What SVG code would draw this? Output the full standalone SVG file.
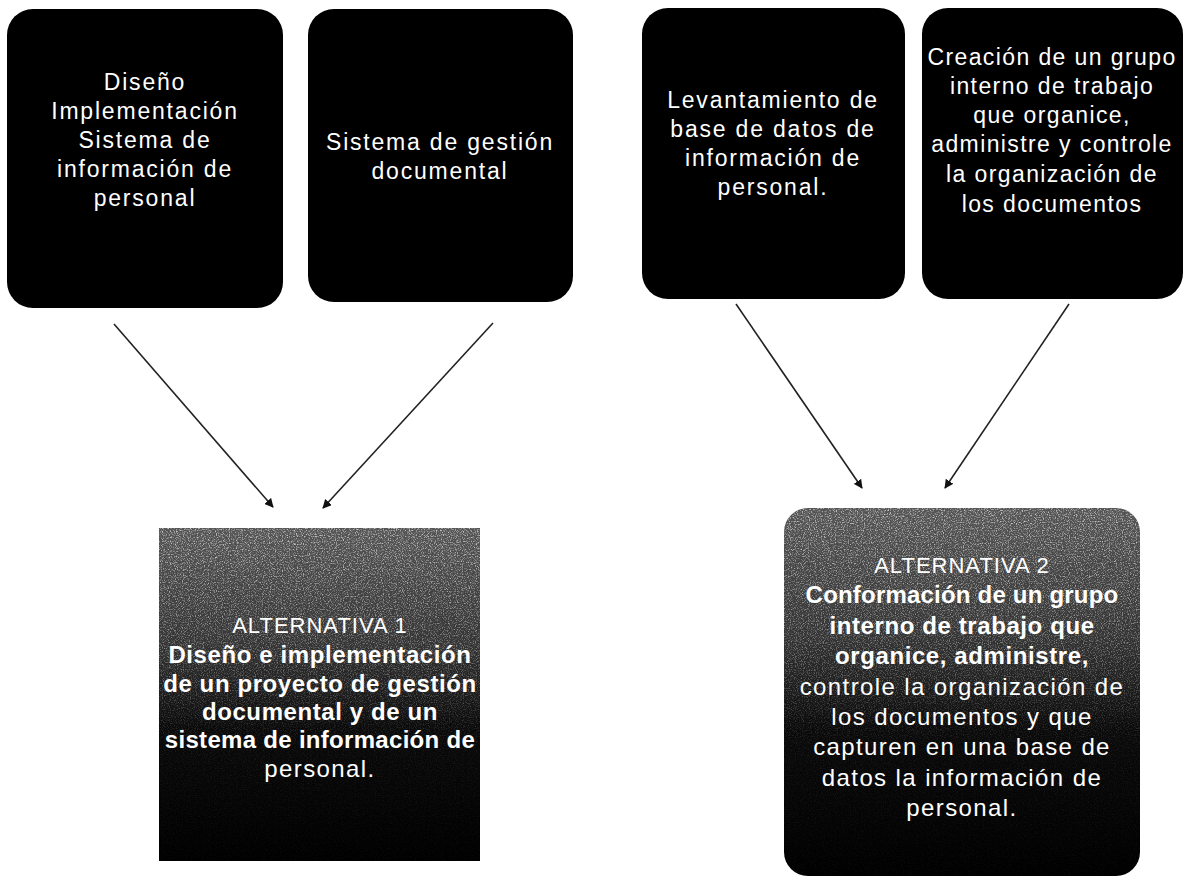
<svg xmlns="http://www.w3.org/2000/svg" width="1190" height="883" viewBox="0 0 1190 883">
<defs>
<style>
.box{fill:#000}
.t{font-family:"Liberation Sans",Arial,sans-serif;font-size:23px;fill:#fff;text-anchor:middle;letter-spacing:1.8px}
.t4{letter-spacing:1.4px}
.ah{font-family:"Liberation Sans",Arial,sans-serif;font-size:22px;fill:#fff;text-anchor:middle;letter-spacing:1px}
.ta{font-family:"Liberation Sans",Arial,sans-serif;font-size:24px;fill:#fff;text-anchor:middle;font-weight:bold;letter-spacing:0.6px}
.tr{font-family:"Liberation Sans",Arial,sans-serif;font-size:24px;fill:#fff;text-anchor:middle;letter-spacing:1.4px}
.arr{stroke:#222;stroke-width:1.6;fill:none;marker-end:url(#ah)}
.grain{filter:url(#grain)}
</style>
<marker id="ah" viewBox="0 0 10 10" refX="9" refY="5" markerWidth="9" markerHeight="9" markerUnits="userSpaceOnUse" orient="auto">
<path d="M0,0 L10,5 L0,10 z" fill="#111"/>
</marker>
<linearGradient id="g1" x1="0" y1="0" x2="0" y2="1">
<stop offset="0" stop-color="#555"/>
<stop offset="0.35" stop-color="#333"/>
<stop offset="0.6" stop-color="#0a0a0a"/>
<stop offset="1" stop-color="#000"/>
</linearGradient>
<linearGradient id="fade" x1="0" y1="0" x2="0" y2="1">
<stop offset="0" stop-color="#fff" stop-opacity="0.8"/>
<stop offset="0.4" stop-color="#fff" stop-opacity="0.45"/>
<stop offset="0.65" stop-color="#fff" stop-opacity="0.08"/>
<stop offset="1" stop-color="#fff" stop-opacity="0.03"/>
</linearGradient>
<filter id="grain" x="0" y="0" width="1" height="1">
<feTurbulence type="fractalNoise" baseFrequency="0.85" numOctaves="2" seed="5" result="n"/>
<feColorMatrix in="n" type="matrix" values="0 0 0 0 0.78  0 0 0 0 0.78  0 0 0 0 0.78  0 0 0 3 -1.4" result="w"/>
<feComposite in="w" in2="SourceGraphic" operator="in"/>
</filter>
</defs>

<g id="connectors">
<line class="arr" x1="114" y1="324" x2="273" y2="507"/>
<line class="arr" x1="493" y1="323" x2="323" y2="508"/>
<line class="arr" x1="736" y1="304" x2="862" y2="488"/>
<line class="arr" x1="1069" y1="304" x2="945" y2="488"/>
</g>

<g id="n1">
<rect class="box" x="7" y="9" width="276" height="299" rx="26"/>
<text class="t" x="145" y="90">Diseño</text>
<text class="t" x="145" y="119">Implementación</text>
<text class="t" x="145" y="148">Sistema de</text>
<text class="t" x="145" y="177">información de</text>
<text class="t" x="145" y="206">personal</text>
</g>

<g id="n2">
<rect class="box" x="308" y="9" width="265" height="293" rx="26"/>
<text class="t" x="440" y="150">Sistema de gestión</text>
<text class="t" x="440" y="179">documental</text>
</g>

<g id="n3">
<rect class="box" x="642" y="8" width="263" height="291" rx="26"/>
<text class="t" x="773" y="108">Levantamiento de</text>
<text class="t" x="773" y="137">base de datos de</text>
<text class="t" x="773" y="166">información de</text>
<text class="t" x="773" y="195">personal.</text>
</g>

<g id="n4">
<rect class="box" x="922" y="8" width="261" height="291" rx="26"/>
<text class="t t4" x="1052" y="65">Creación de un grupo</text>
<text class="t t4" x="1052" y="94">interno  de trabajo</text>
<text class="t t4" x="1052" y="123">que organice,</text>
<text class="t t4" x="1052" y="152">administre y controle</text>
<text class="t t4" x="1052" y="182">la organización  de</text>
<text class="t t4" x="1052" y="212">los documentos</text>
</g>

<g id="alt1">
<rect x="159" y="528" width="321" height="333" fill="url(#g1)"/>
<rect class="grain" x="159" y="528" width="321" height="333" fill="url(#fade)"/>
<text class="ah" x="320" y="633">ALTERNATIVA 1</text>
<text class="ta" x="320" y="663">Diseño e implementación</text>
<text class="ta" x="320" y="692">de un proyecto de gestión</text>
<text class="ta" x="320" y="720">documental y de un</text>
<text class="ta" x="320" y="748" style="letter-spacing:0.3px">sistema de información de</text>
<text class="tr" x="320" y="777">personal.</text>
</g>

<g id="alt2">
<rect x="784" y="508" width="356" height="368" rx="24" fill="url(#g1)"/>
<rect class="grain" x="784" y="508" width="356" height="368" rx="24" fill="url(#fade)"/>
<text class="ah" x="962" y="573">ALTERNATIVA 2</text>
<text class="ta" x="962" y="603" style="letter-spacing:0.2px">Conformación de un grupo</text>
<text class="ta" x="962" y="634">interno de trabajo que</text>
<text class="ta" x="962" y="664">organice, administre,</text>
<text class="tr" x="962" y="695">controle la organización  de</text>
<text class="tr" x="962" y="725">los documentos  y  que</text>
<text class="tr" x="962" y="755">capturen en una base de</text>
<text class="tr" x="962" y="786">datos la  información  de</text>
<text class="tr" x="962" y="816">personal.</text>
</g>
</svg>
